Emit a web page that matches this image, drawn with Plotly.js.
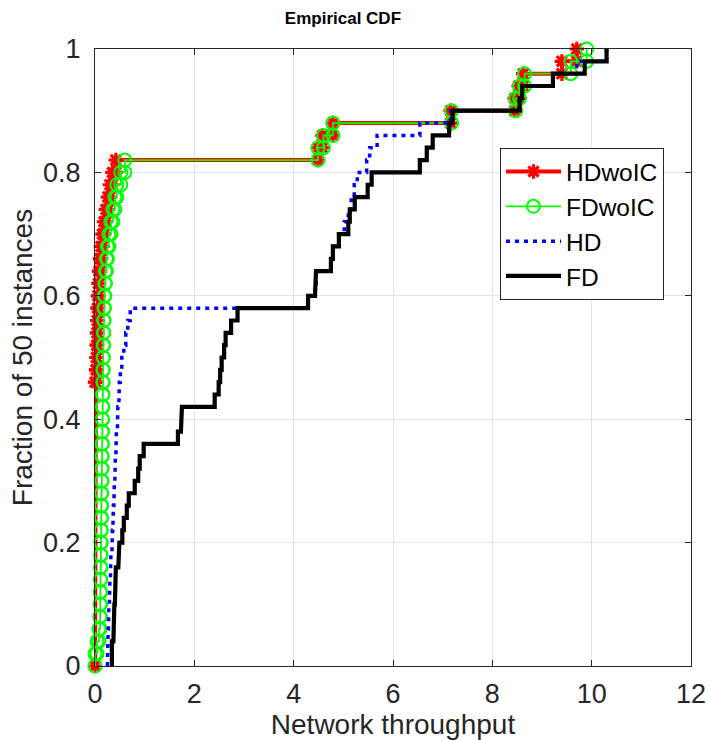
<!DOCTYPE html>
<html>
<head>
<meta charset="utf-8">
<script src="https://cdn.plot.ly/plotly-3.0.1.min.js"></script>
<style>html,body{margin:0;padding:0;background:#fff;}#chart{width:709px;height:740px;}</style>
</head>
<body>
<div id="chart"></div>
<script>
// Sorted samples (50 instances each)
const seriesNames = ["HDwoIC", "FDwoIC", "HD", "FD"];
const HDwoIC = [0,0,0,0,0,0,0,0,0,0,0,0,0,0,0,0,0,0,0,0,0,0,0,
  0.02,0.03,0.035,0.04,0.045,0.05,0.06,0.07,0.08,0.10,0.12,0.15,0.18,0.22,0.26,0.30,0.35,0.42,
  4.49,4.58,4.79,7.16,8.45,8.53,8.62,9.40,9.70];
const FDwoIC = [0.00,0.04,0.08,0.100,0.104,0.108,0.111,0.114,0.117,0.120,
  0.123,0.126,0.129,0.132,0.135,0.138,0.141,0.144,0.147,0.150,
  0.153,0.156,0.159,0.162,0.165,0.168,0.172,0.176,0.182,0.19,
  0.20,0.21,0.23,0.25,0.28,0.32,0.36,0.40,0.44,0.52,0.60,
  4.49,4.60,4.79,7.18,8.47,8.55,8.65,9.58,9.90];
const HD = [0.25,0.26,0.265,0.27,0.28,0.29,0.30,0.31,0.32,0.34,
  0.35,0.36,0.37,0.38,0.39,0.40,0.41,0.42,0.43,
  0.45,0.46,0.48,0.49,0.51,0.54,0.58,0.62,0.66,0.71,
  4.29,4.43,4.45,4.75,4.79,4.91,5.02,5.10,5.16,5.22,5.28,5.47,5.53,5.68,6.54,7.16,
  8.55,8.60,9.22,9.70,10.30];
const FD = [0.34,0.34,0.37,0.38,0.39,0.40,0.41,0.42,0.47,0.49,0.55,0.58,0.64,0.68,0.80,0.87,0.90,0.98,
  1.67,1.73,1.75,2.41,2.49,2.52,2.55,2.60,2.63,2.74,2.87,
  4.29,4.43,4.45,4.75,4.79,4.91,5.10,5.13,5.23,5.49,5.57,6.54,6.68,6.80,7.13,7.20,
  8.55,8.60,9.22,9.86,10.30];
const xTicks = [0,2,4,6,8,10,12];
const yTicks = [0,0.2,0.4,0.6,0.8,1];

// Empirical CDF drawn as stairs (corner points, ties collapsed like MATLAB ecdf)
function ecdfStairs(vals){
  const s = vals.slice().sort((a,b)=>a-b), n = s.length;
  const xs=[s[0]], ys=[0];
  let i=0;
  while(i<n){
    let j=i; while(j+1<n && s[j+1]===s[i]) j++;
    const F=(j+1)/n;
    xs.push(s[i]); ys.push(F);
    if(j+1<n){ xs.push(s[j+1]); ys.push(F); }
    i=j+1;
  }
  return {x:xs, y:ys};
}

const font = "Liberation Sans, Arial, sans-serif";
const a = ecdfStairs(HDwoIC), b = ecdfStairs(FDwoIC), c = ecdfStairs(HD), d = ecdfStairs(FD);
const traces = [
  {x:a.x, y:a.y, name:seriesNames[0], type:"scatter", mode:"lines+markers", cliponaxis:false,
   line:{color:"#ff0000", width:4},
   marker:{symbol:"asterisk-open", size:12, color:"#ff0000", line:{color:"#ff0000", width:3.2}}},
  {x:b.x, y:b.y, name:seriesNames[1], type:"scatter", mode:"lines+markers", cliponaxis:false,
   line:{color:"#00ff00", width:1.8},
   marker:{symbol:"circle-open", size:13, color:"#00ff00", line:{color:"#00ff00", width:2}}},
  {x:c.x, y:c.y, name:seriesNames[2], type:"scatter", mode:"lines", cliponaxis:false,
   line:{color:"#0000ff", width:3.5, dash:"4px,5px"}},
  {x:d.x, y:d.y, name:seriesNames[3], type:"scatter", mode:"lines", cliponaxis:false,
   line:{color:"#000000", width:4.2}}
];

const axisCommon = {
  showgrid:true, gridcolor:"#e3e3e3", gridwidth:1, zeroline:false,
  showline:true, linecolor:"#262626", linewidth:1, mirror:"ticks",
  ticks:"inside", ticklen:6, tickcolor:"#262626",
  tickfont:{family:font, size:27, color:"#262626"}
};
const layout = {
  width:709, height:740,
  margin:{l:95, r:18, t:49, b:74},
  paper_bgcolor:"#ffffff", plot_bgcolor:"#ffffff",
  font:{family:font, color:"#262626"},
  title:{text:"<b>Empirical CDF</b>", font:{family:font, size:17, color:"#000000"},
         x:0.416, xref:"paper", xanchor:"center", y:1-18/740, yref:"container", yanchor:"middle"},
  xaxis:Object.assign({}, axisCommon, {range:[0,12], tickvals:xTicks, ticktext:xTicks.map(String),
         ticklabelstandoff:4,
         title:{text:"Network throughput", font:{family:font, size:28, color:"#262626"}, standoff:0}}),
  yaxis:Object.assign({}, axisCommon, {range:[0,1], tickvals:yTicks, ticktext:yTicks.map(String),
         ticklabelstandoff:8,
         title:{text:"Fraction of 50 instances", font:{family:font, size:28, color:"#262626"}, standoff:2}}),
  showlegend:true,
  legend:{x:(500-95)/596, y:1-(148-49)/617, xanchor:"left", yanchor:"top",
          bgcolor:"#ffffff", bordercolor:"#262626", borderwidth:1,
          font:{family:font, size:24.5, color:"#000000"}, itemwidth:55, tracegroupgap:0}
};
Plotly.newPlot("chart", traces, layout, {displayModeBar:false, staticPlot:true});
</script>
</body>
</html>
